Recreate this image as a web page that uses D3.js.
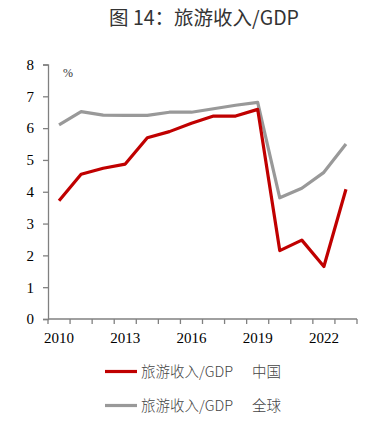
<!DOCTYPE html>
<html>
<head>
<meta charset="utf-8">
<script src="https://cdn.jsdelivr.net/npm/d3@7"></script>
<style>
  body { margin: 0; background: #fff; }
</style>
</head>
<body>
<svg id="chart" width="378" height="426"></svg>
<script>
const years = [2010, 2011, 2012, 2013, 2014, 2015, 2016, 2017, 2018, 2019, 2020, 2021, 2022, 2023];
const chinaValues = [3.72, 4.55, 4.74, 4.87, 5.70, 5.89, 6.15, 6.38, 6.38, 6.59, 2.15, 2.48, 1.65, 4.08];
const globalValues = [6.10, 6.52, 6.41, 6.40, 6.40, 6.50, 6.50, 6.61, 6.72, 6.81, 3.81, 4.11, 4.61, 5.50];
const yTicks = [0, 1, 2, 3, 4, 5, 6, 7, 8];
const xLabels = [2010, 2013, 2016, 2019, 2022];
const seriesNames = ["旅游收入/GDP", "旅游收入/GDP"];
const seriesRegions = ["中国", "全球"];

const svg = d3.select("#chart");
const margin = {left: 48, top: 64.5, right: 21, bottom: 107};
const width = +svg.attr("width");
const height = +svg.attr("height");
const innerW = width - margin.left - margin.right;
const innerH = height - margin.top - margin.bottom;

const x = d3.scaleBand().domain(years).range([0, innerW]);
const y = d3.scaleLinear().domain([0, 8]).range([innerH, 0]);

svg.append("text")
    .attr("x", 204)
    .attr("y", 25)
    .attr("text-anchor", "middle")
    .attr("font-family", "Noto Sans CJK SC")
    .attr("font-size", 19.5)
    .attr("fill", "#333")
    .text("图 14：旅游收入/GDP");

const chart = svg.append("g")
    .attr("transform", "translate(" + margin.left + "," + margin.top + ")");

// y axis
const yAxis = chart.append("g")
    .call(d3.axisLeft(y).tickValues(yTicks).tickSize(5).tickPadding(9).tickFormat(d3.format("d")));
yAxis.select(".domain").attr("stroke", "#808080").attr("stroke-width", 1.3);
yAxis.selectAll(".tick line").attr("stroke", "#808080").attr("stroke-width", 1.3);
yAxis.selectAll(".tick text")
    .attr("font-family", "Liberation Serif")
    .attr("font-size", 15)
    .attr("fill", "#000");

// x axis with ticks at band boundaries
const xAxisG = chart.append("g").attr("transform", "translate(0," + innerH + ")");
xAxisG.append("line")
    .attr("x1", 0).attr("x2", innerW)
    .attr("stroke", "#808080").attr("stroke-width", 1.3);
xAxisG.selectAll(".xtick")
    .data(years.concat([null]))
    .enter().append("line")
    .attr("x1", (d, i) => i < years.length ? x(d) : innerW)
    .attr("x2", (d, i) => i < years.length ? x(d) : innerW)
    .attr("y1", 0).attr("y2", 5)
    .attr("stroke", "#808080").attr("stroke-width", 1.3);
xAxisG.selectAll(".xlabel")
    .data(xLabels)
    .enter().append("text")
    .attr("x", d => x(d) + x.bandwidth() / 2)
    .attr("y", 24)
    .attr("text-anchor", "middle")
    .attr("font-family", "Liberation Serif")
    .attr("font-size", 15)
    .attr("fill", "#000")
    .text(d => d);

chart.append("text")
    .attr("x", 15)
    .attr("y", 12)
    .attr("font-family", "Liberation Serif")
    .attr("font-size", 12)
    .attr("fill", "#333")
    .text("%");

const line = d3.line()
    .x((d, i) => x(years[i]) + x.bandwidth() / 2)
    .y(d => y(d));

chart.append("path")
    .datum(globalValues)
    .attr("fill", "none")
    .attr("stroke", "#999999")
    .attr("stroke-width", 3.2)
    .attr("stroke-linejoin", "round")
    .attr("d", line);

chart.append("path")
    .datum(chinaValues)
    .attr("fill", "none")
    .attr("stroke", "#C00000")
    .attr("stroke-width", 3.2)
    .attr("stroke-linejoin", "round")
    .attr("d", line);

// legend
const legendColors = ["#C00000", "#999999"];
const legend = svg.append("g");
seriesNames.forEach((name, i) => {
    const ly = 371.5 + i * 34;
    legend.append("line")
        .attr("x1", 105).attr("x2", 137)
        .attr("y1", ly).attr("y2", ly)
        .attr("stroke", legendColors[i])
        .attr("stroke-width", 3.2);
    legend.append("text")
        .attr("x", 141)
        .attr("y", ly + 5)
        .attr("font-family", "Noto Sans CJK SC")
        .attr("font-size", 14.5)
        .attr("font-weight", 300)
        .attr("fill", "#444")
        .text(name);
    legend.append("text")
        .attr("x", 252)
        .attr("y", ly + 5)
        .attr("font-family", "Noto Sans CJK SC")
        .attr("font-size", 14.5)
        .attr("font-weight", 300)
        .attr("fill", "#444")
        .text(seriesRegions[i]);
});
</script>
</body>
</html>
